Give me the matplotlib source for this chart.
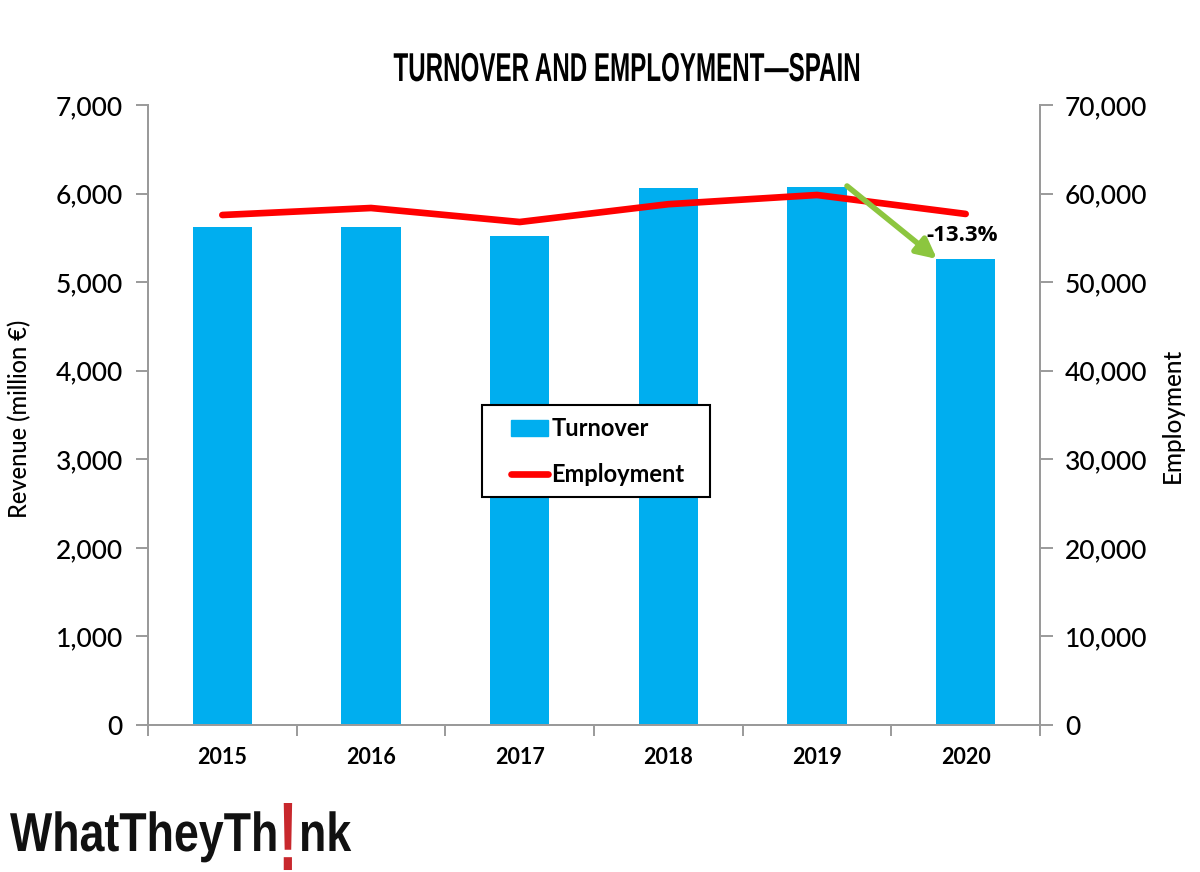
import matplotlib
matplotlib.use('Agg')
import matplotlib.pyplot as plt
from matplotlib.lines import Line2D
from matplotlib.patches import Patch, Rectangle
from matplotlib.patheffects import AbstractPathEffect
from matplotlib.ticker import FuncFormatter
from matplotlib.transforms import Affine2D

years = ['2015', '2016', '2017', '2018', '2019', '2020']
turnover = [5623, 5625, 5520, 6063, 6070, 5261]
employment = [57580, 58370, 56790, 58800, 59840, 57700]

W, H = 1200, 872
BLUE = '#00AEEF'
RED = '#FF0000'
GREY = '#9A9A9A'
TEXT_FONT = ['Lato', 'DejaVu Sans']
BLOCK_FONT = ['Liberation Sans', 'DejaVu Sans']

fig = plt.figure(figsize=(W / 100, H / 100), dpi=100)
ax = fig.add_axes([148 / W, 1 - 725 / H, (1040 - 148) / W, (725 - 105) / H])
ax2 = ax.twinx()


def px(x, y):
    return x / W, 1 - y / H


# no condensed font installed, so stretch the glyphs upward when drawing
class Stretch(AbstractPathEffect):
    def __init__(self, factor, anchor_y):
        super().__init__()
        self.factor = factor
        self.anchor = H - anchor_y

    def draw_path(self, renderer, gc, tpath, affine, rgbFace=None):
        tall = affine + Affine2D().translate(0, -self.anchor).scale(1, self.factor).translate(0, self.anchor)
        renderer.draw_path(gc, tpath, tall, rgbFace)


xs = list(range(len(years)))
ax.bar(xs, turnover, width=0.4, color=BLUE, zorder=2)
ax.set_xlim(-0.5, 5.5)
ax.set_ylim(0, 7000)
ax2.set_ylim(0, 70000)
ax2.plot(xs, employment, color=RED, lw=4.8, solid_capstyle='round', zorder=3)

fmt = FuncFormatter(lambda v, _: f'{int(v):,}')
ax.set_yticks(range(0, 7001, 1000))
ax2.set_yticks(range(0, 70001, 10000))
ax.yaxis.set_major_formatter(fmt)
ax2.yaxis.set_major_formatter(fmt)

# x ticks sit between the categories
ax.set_xticks([x - 0.5 for x in range(7)])
ax.set_xticklabels([])
ax.set_xticks(xs, minor=True)
ax.set_xticklabels(years, minor=True, fontsize=15.5, fontweight='bold', family=TEXT_FONT)
ax.tick_params(axis='x', which='major', length=8, width=1.4, color=GREY)
ax.tick_params(axis='x', which='minor', length=0, pad=16)
ax.tick_params(axis='y', length=9, width=1.4, color=GREY, labelsize=19, pad=9)
ax2.tick_params(axis='y', length=9, width=1.4, color=GREY, labelsize=19, pad=9)
for lab in ax.get_yticklabels() + ax2.get_yticklabels():
    lab.set_family(TEXT_FONT)
    lab.set_fontweight('medium')

for a in (ax, ax2):
    a.spines['top'].set_visible(False)
    for s in ('left', 'right', 'bottom'):
        a.spines[s].set_color(GREY)
        a.spines[s].set_linewidth(1.4)

title = fig.text(*px(627, 81), 'TURNOVER AND EMPLOYMENT—SPAIN', ha='center', va='baseline',
                 fontsize=17.4, fontweight='bold', family=BLOCK_FONT)
title.set_path_effects([Stretch(1.667, 81)])
fig.text(*px(20, 419), 'Revenue (million €)', rotation=90, ha='center', va='center',
         fontsize=17, fontweight='medium', family=TEXT_FONT)
fig.text(*px(1172, 415), 'Employment', rotation=90, ha='center', va='center',
         fontsize=17.5, fontweight='medium', family=TEXT_FONT)

# green change arrow
ax2.annotate('', xy=px(937, 259), xytext=px(847, 186),
             xycoords='figure fraction', textcoords='figure fraction',
             arrowprops=dict(arrowstyle='-|>,head_width=0.5,head_length=1.0',
                             color='#8CC63F', lw=4, shrinkA=0, shrinkB=0, mutation_scale=12),
             zorder=4)
fig.text(*px(962, 235), '-13.3%', ha='center', va='center', fontsize=16,
         fontweight='bold', family=['Open Sans', 'DejaVu Sans'], zorder=5)

ax2.add_patch(Rectangle(px(482, 497), 228 / W, 92 / H, transform=fig.transFigure,
                        fc='white', ec='black', lw=1.5, zorder=5, clip_on=False))
handles = [Patch(color=BLUE, label='Turnover'),
           Line2D([0], [0], color=RED, lw=4.8, solid_capstyle='round', label='Employment')]
leg = ax2.legend(handles=handles, loc='center', bbox_to_anchor=px(598, 451.5),
                 bbox_transform=fig.transFigure, frameon=False,
                 prop=dict(family=TEXT_FONT, size=17, weight='bold'),
                 handlelength=1.55, handletextpad=0.15, labelspacing=0.96,
                 borderpad=0, borderaxespad=0)
leg.set_zorder(6)

# logo, three pieces so the exclamation mark can be red
logo = dict(fontsize=32.2, fontweight='bold', family=BLOCK_FONT, va='baseline', ha='left', color='#111111')
fig.text(*px(10, 851), 'WhatTheyTh', path_effects=[Stretch(1.227, 851)], **logo)
fig.text(*px(288, 853), '!', ha='center', va='baseline', color='#C8282D', fontsize=42,
         fontweight='bold', family=BLOCK_FONT, path_effects=[Stretch(1.67, 827.6)])
fig.text(*px(299, 851), 'nk', path_effects=[Stretch(1.227, 851)], **logo)

fig.savefig('out.png', dpi=100, facecolor='white')
